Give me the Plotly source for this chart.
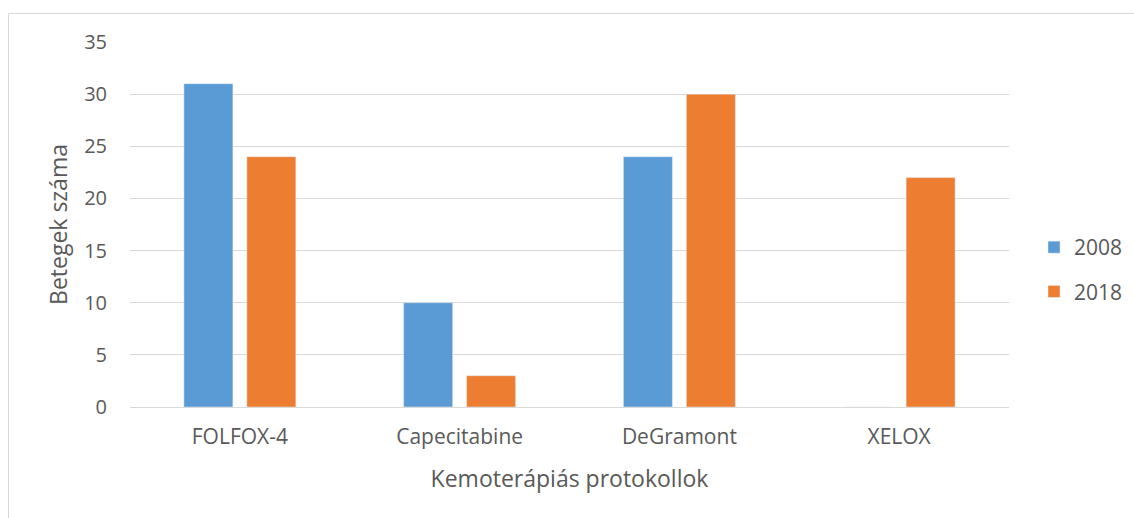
import plotly.graph_objects as go

protocols = ["FOLFOX-4", "Capecitabine", "DeGramont", "XELOX"]
patients_2008 = [31, 10, 24, 0]
patients_2018 = [24, 3, 30, 22]
y_ticks = [0, 5, 10, 15, 20, 25, 30, 35]

W, H = 1134, 518
L, R, T, B = 130, 125, 42, 111
pw, ph = W - L - R, H - T - B

def px_to_paper_x(px):
    return (px - L) / pw

def px_to_paper_y(py):
    return (H - B - py) / ph

font_family = "'Open Sans', sans-serif"
text_color = "#595959"

fig = go.Figure()
fig.add_trace(go.Bar(name="2008", x=protocols, y=patients_2008,
                     marker_color="#5B9BD5", legendgroup="a"))
fig.add_trace(go.Bar(name="2018", x=protocols, y=patients_2018,
                     marker_color="#ED7D31", legendgroup="b"))

fig.update_layout(
    width=W, height=H,
    margin=dict(l=L, r=R, t=T, b=B, autoexpand=False),
    paper_bgcolor="white", plot_bgcolor="white",
    barmode="group", bargap=0.427, bargroupgap=0.222,
    font=dict(family=font_family, color=text_color, size=20),
    legend=dict(
        x=px_to_paper_x(1034), y=px_to_paper_y(227), xanchor="left", yanchor="top",
        font=dict(size=21, color=text_color), tracegroupgap=14,
        bgcolor="rgba(0,0,0,0)",
    ),
    xaxis=dict(
        title=dict(text="Kemoterápiás protokollok", font=dict(size=23, color=text_color), standoff=21),
        showgrid=False, showline=True, linecolor="#d9d9d9", linewidth=1,
        ticks="", tickfont=dict(size=21, color=text_color), ticklabelstandoff=11,
    ),
    yaxis=dict(
        title=dict(text="Betegek száma", font=dict(size=23, color=text_color), standoff=10),
        range=[0, 35], tickvals=y_ticks, showgrid=True, gridcolor="#d9d9d9", gridwidth=1,
        zeroline=True, zerolinecolor="#d9d9d9", zerolinewidth=1, showline=False,
        ticks="", tickfont=dict(size=20, color=text_color), ticklabelstandoff=22,
    ),
    shapes=[dict(
        type="rect", xref="paper", yref="paper",
        x0=px_to_paper_x(8.5), x1=px_to_paper_x(1145),
        y0=px_to_paper_y(530), y1=px_to_paper_y(13.5),
        line=dict(color="#d9d9d9", width=1), fillcolor="rgba(0,0,0,0)", layer="below",
    )],
)

fig.write_html("out.html")
